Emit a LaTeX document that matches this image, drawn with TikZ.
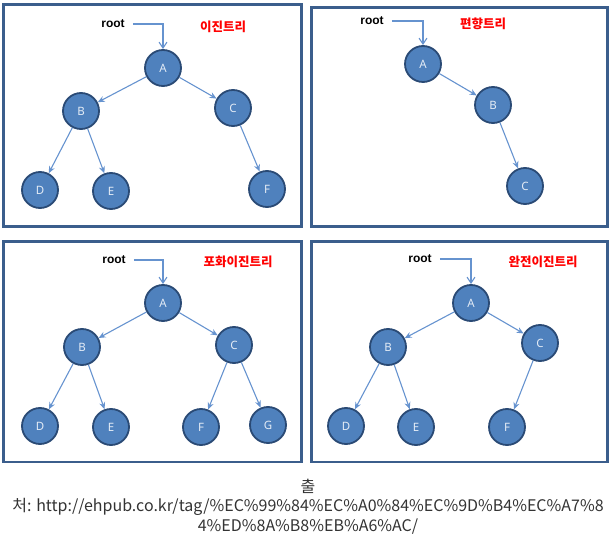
\documentclass[tikz,border=0pt]{standalone}
\usepackage{fontspec}
\setmainfont{Noto Sans}
\newfontfamily\cjk{Noto Sans CJK KR}
\newfontfamily\rootfont{Liberation Sans}
\usetikzlibrary{arrows.meta}
\definecolor{frameblue}{HTML}{3B5E8C}
\definecolor{nodefill}{HTML}{4F81BD}
\definecolor{nodeedge}{HTML}{2A4A75}
\definecolor{edgeblue}{HTML}{6693CF}
\definecolor{nodetext}{HTML}{E4ECF6}
\definecolor{titlered}{HTML}{FF0000}
\definecolor{captiongray}{HTML}{333333}
\tikzset{
  panel/.style={draw=frameblue, line width=2.4pt},
  tnode/.style={circle, fill=nodefill, draw=nodeedge, line width=1.8pt,
    minimum size=36pt, inner sep=0pt, text=nodetext, font=\fontsize{11.5}{12}\selectfont},
  edge/.style={draw=edgeblue, line width=1.1pt, -{Stealth[length=7pt,width=6pt]}},
  rootarrow/.style={draw=edgeblue, line width=1.1pt, -{Straight Barb[length=6pt,width=8pt]}},
  rootlabel/.style={font=\rootfont\bfseries\fontsize{12}{13}\selectfont, text=black, inner sep=0pt},
  title/.style={font=\cjk\bfseries\fontsize{12.5}{13}\selectfont, text=titlered, inner sep=0pt},
  caption/.style={font=\cjk\fontsize{16}{18}\selectfont, text=captiongray, inner sep=0pt},
}
\begin{document}
\begin{tikzpicture}[x=1pt,y=-1pt]
\useasboundingbox (0,0) rectangle (616,545);
% panels
\draw[panel] (3.5,4.5) rectangle (301.5,226.5);
\draw[panel] (311.5,7.5) rectangle (607.5,226.5);
\draw[panel] (3.5,241.5) rectangle (301.5,462);
\draw[panel] (311.5,241.5) rectangle (607.5,462);

% ---------- panel 1: binary tree
\node[rootlabel] (r1) at (113,24) {root};
\node[title] (t1) at (223,27) {이진트리};
\node[tnode] (a1) at (163,68) {A};
\node[tnode] (b1) at (81,111) {B};
\node[tnode] (c1) at (233,108) {C};
\node[tnode] (d1) at (40,190) {D};
\node[tnode] (e1) at (111,191) {E};
\node[tnode] (f1) at (267,189) {F};
\draw[rootarrow] ([xshift=8pt]r1.east) -| (a1.north);
\draw[edge] (a1) -- (b1);
\draw[edge] (a1) -- (c1);
\draw[edge] (b1) -- (d1);
\draw[edge] (b1) -- (e1);
\draw[edge] (c1) -- (f1);

% ---------- panel 2: skewed tree
\node[rootlabel] (r2) at (372,21) {root};
\node[title] (t2) at (483,24) {편향트리};
\node[tnode] (a2) at (423,64) {A};
\node[tnode] (b2) at (493,105) {B};
\node[tnode] (c2) at (525,186) {C};
\draw[rootarrow] ([xshift=8pt]r2.east) -| (a2.north);
\draw[edge] (a2) -- (b2);
\draw[edge] (b2) -- (c2);

% ---------- panel 3: full binary tree
\node[rootlabel] (r3) at (114,260) {root};
\node[title] (t3) at (238,262) {포화이진트리};
\node[tnode] (a3) at (163,303) {A};
\node[tnode] (b3) at (82,347) {B};
\node[tnode] (c3) at (234,345) {C};
\node[tnode] (d3) at (40,426) {D};
\node[tnode] (e3) at (111,427) {E};
\node[tnode] (f3) at (201,427) {F};
\node[tnode] (g3) at (268,425) {G};
\draw[rootarrow] ([xshift=8pt]r3.east) -| (a3.north);
\draw[edge] (a3) -- (b3);
\draw[edge] (a3) -- (c3);
\draw[edge] (b3) -- (d3);
\draw[edge] (b3) -- (e3);
\draw[edge] (c3) -- (f3);
\draw[edge] (c3) -- (g3);

% ---------- panel 4: complete binary tree
\node[rootlabel] (r4) at (420,259) {root};
\node[title] (t4) at (543,262) {완전이진트리};
\node[tnode] (a4) at (471,303) {A};
\node[tnode] (b4) at (388,347) {B};
\node[tnode] (c4) at (540,343) {C};
\node[tnode] (d4) at (346,426) {D};
\node[tnode] (e4) at (416,427) {E};
\node[tnode] (f4) at (507,427) {F};
\draw[rootarrow] ([xshift=8pt]r4.east) -| (a4.north);
\draw[edge] (a4) -- (b4);
\draw[edge] (a4) -- (c4);
\draw[edge] (b4) -- (d4);
\draw[edge] (b4) -- (e4);
\draw[edge] (c4) -- (f4);

% ---------- caption
\node[caption] (cap1) at (308,486) {출};
\node[caption] (cap2) at (308,507) {처: http://ehpub.co.kr/tag/\%EC\%99\%84\%EC\%A0\%84\%EC\%9D\%B4\%EC\%A7\%8};
\node[caption] (cap3) at (308,527) {4\%ED\%8A\%B8\%EB\%A6\%AC/};
\end{tikzpicture}
\end{document}
